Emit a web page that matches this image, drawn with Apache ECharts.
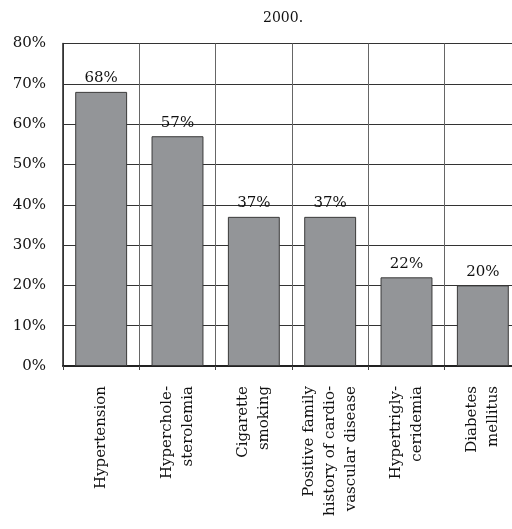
<!DOCTYPE html>
<html>
<head>
<meta charset="utf-8">
<script src="https://cdn.jsdelivr.net/npm/echarts@6/dist/echarts.min.js"></script>
<style>html,body{margin:0;padding:0;background:#fff;overflow:hidden;}#c{width:521px;height:529px;}</style>
</head>
<body>
<div id="c"></div>
<script>
const title = '2000.';
const categories = [
  'Hypertension',
  'Hyperchole-\nsterolemia',
  'Cigarette\nsmoking',
  'Positive family\nhistory of cardio-\nvascular disease',
  'Hypertrigly-\nceridemia',
  'Diabetes\nmellitus'
];
const values = [68, 57, 37, 37, 22, 20];
const yTicks = { min: 0, max: 80, interval: 10 };

const serif = 'DejaVu Serif';
const chart = echarts.init(document.getElementById('c'));
chart.setOption({
  animation: false,
  backgroundColor: '#fff',
  title: {
    text: title,
    left: 258,
    top: 6,
    textStyle: { fontFamily: serif, fontSize: 14, fontWeight: 'normal', color: '#111' }
  },
  grid: { left: 63, top: 43.5, bottom: 163, right: 0 },
  xAxis: {
    type: 'category',
    data: categories,
    axisLine: { lineStyle: { color: '#222', width: 2 } },
    axisTick: { show: true, length: 4, lineStyle: { color: '#444' } },
    splitLine: { show: true, lineStyle: { color: '#666', width: 1 } },
    axisLabel: {
      rotate: 90,
      interval: 0,
      margin: 20,
      fontFamily: serif,
      fontSize: 15,
      lineHeight: 21,
      color: '#111'
    }
  },
  yAxis: {
    type: 'value',
    min: yTicks.min,
    max: yTicks.max,
    interval: yTicks.interval,
    axisLine: { show: true, lineStyle: { color: '#222', width: 1.5 } },
    axisTick: { show: false },
    splitLine: { show: true, lineStyle: { color: '#333', width: 1 } },
    axisLabel: {
      formatter: '{value}%',
      margin: 17,
      fontFamily: serif,
      fontSize: 15,
      color: '#111'
    }
  },
  series: [{
    type: 'bar',
    data: values,
    barCategoryGap: '32%',
    itemStyle: { color: '#939598', borderColor: '#3a3a3a', borderWidth: 1 },
    label: {
      show: true,
      position: 'top',
      distance: 6,
      formatter: '{c}%',
      fontFamily: serif,
      fontSize: 15,
      color: '#111'
    }
  }]
});
</script>
</body>
</html>
